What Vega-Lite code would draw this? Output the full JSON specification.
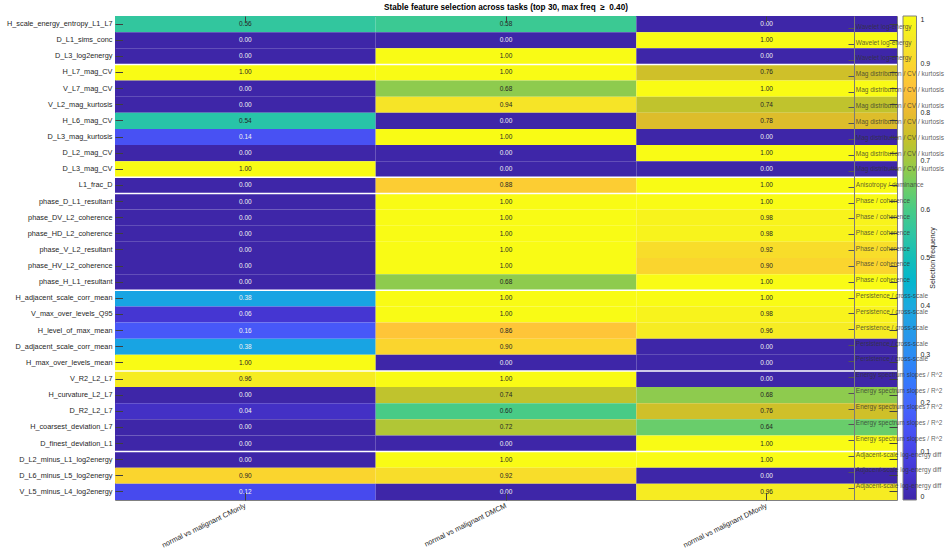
{
  "$schema": "https://vega.github.io/schema/vega-lite/v6.json",
  "width": 782,
  "height": 484,
  "autosize": {"type": "none"},
  "padding": {"left": 115, "top": 16, "right": 51, "bottom": 53},
  "background": "white",
  "config": {
    "view": {"stroke": "#808080", "strokeWidth": 1},
    "font": "Liberation Sans",
    "axis": {"grid": false, "labelFont": "Liberation Sans", "titleFont": "Liberation Sans"}
  },
  "title": {
    "text": "Stable feature selection across tasks (top 30, max freq \u00a0\u2265 \u00a00.40)",
    "fontSize": 8.2,
    "fontWeight": "bold",
    "color": "#000000",
    "offset": 3,
    "anchor": "middle",
    "font": "Liberation Sans"
  },
  "datasets": {
    "cells": [
      {"feature": "H_scale_energy_entropy_L1_L7", "task": "normal vs malignant CMonly", "value": 0.56},
      {"feature": "H_scale_energy_entropy_L1_L7", "task": "normal vs malignant DMCM", "value": 0.58},
      {"feature": "H_scale_energy_entropy_L1_L7", "task": "normal vs malignant DMonly", "value": 0.0},
      {"feature": "D_L1_sims_conc", "task": "normal vs malignant CMonly", "value": 0.0},
      {"feature": "D_L1_sims_conc", "task": "normal vs malignant DMCM", "value": 0.0},
      {"feature": "D_L1_sims_conc", "task": "normal vs malignant DMonly", "value": 1.0},
      {"feature": "D_L3_log2energy", "task": "normal vs malignant CMonly", "value": 0.0},
      {"feature": "D_L3_log2energy", "task": "normal vs malignant DMCM", "value": 1.0},
      {"feature": "D_L3_log2energy", "task": "normal vs malignant DMonly", "value": 0.0},
      {"feature": "H_L7_mag_CV", "task": "normal vs malignant CMonly", "value": 1.0},
      {"feature": "H_L7_mag_CV", "task": "normal vs malignant DMCM", "value": 1.0},
      {"feature": "H_L7_mag_CV", "task": "normal vs malignant DMonly", "value": 0.76},
      {"feature": "V_L7_mag_CV", "task": "normal vs malignant CMonly", "value": 0.0},
      {"feature": "V_L7_mag_CV", "task": "normal vs malignant DMCM", "value": 0.68},
      {"feature": "V_L7_mag_CV", "task": "normal vs malignant DMonly", "value": 1.0},
      {"feature": "V_L2_mag_kurtosis", "task": "normal vs malignant CMonly", "value": 0.0},
      {"feature": "V_L2_mag_kurtosis", "task": "normal vs malignant DMCM", "value": 0.94},
      {"feature": "V_L2_mag_kurtosis", "task": "normal vs malignant DMonly", "value": 0.74},
      {"feature": "H_L6_mag_CV", "task": "normal vs malignant CMonly", "value": 0.54},
      {"feature": "H_L6_mag_CV", "task": "normal vs malignant DMCM", "value": 0.0},
      {"feature": "H_L6_mag_CV", "task": "normal vs malignant DMonly", "value": 0.78},
      {"feature": "D_L3_mag_kurtosis", "task": "normal vs malignant CMonly", "value": 0.14},
      {"feature": "D_L3_mag_kurtosis", "task": "normal vs malignant DMCM", "value": 1.0},
      {"feature": "D_L3_mag_kurtosis", "task": "normal vs malignant DMonly", "value": 0.0},
      {"feature": "D_L2_mag_CV", "task": "normal vs malignant CMonly", "value": 0.0},
      {"feature": "D_L2_mag_CV", "task": "normal vs malignant DMCM", "value": 0.0},
      {"feature": "D_L2_mag_CV", "task": "normal vs malignant DMonly", "value": 1.0},
      {"feature": "D_L3_mag_CV", "task": "normal vs malignant CMonly", "value": 1.0},
      {"feature": "D_L3_mag_CV", "task": "normal vs malignant DMCM", "value": 0.0},
      {"feature": "D_L3_mag_CV", "task": "normal vs malignant DMonly", "value": 0.0},
      {"feature": "L1_frac_D", "task": "normal vs malignant CMonly", "value": 0.0},
      {"feature": "L1_frac_D", "task": "normal vs malignant DMCM", "value": 0.88},
      {"feature": "L1_frac_D", "task": "normal vs malignant DMonly", "value": 1.0},
      {"feature": "phase_D_L1_resultant", "task": "normal vs malignant CMonly", "value": 0.0},
      {"feature": "phase_D_L1_resultant", "task": "normal vs malignant DMCM", "value": 1.0},
      {"feature": "phase_D_L1_resultant", "task": "normal vs malignant DMonly", "value": 1.0},
      {"feature": "phase_DV_L2_coherence", "task": "normal vs malignant CMonly", "value": 0.0},
      {"feature": "phase_DV_L2_coherence", "task": "normal vs malignant DMCM", "value": 1.0},
      {"feature": "phase_DV_L2_coherence", "task": "normal vs malignant DMonly", "value": 0.98},
      {"feature": "phase_HD_L2_coherence", "task": "normal vs malignant CMonly", "value": 0.0},
      {"feature": "phase_HD_L2_coherence", "task": "normal vs malignant DMCM", "value": 1.0},
      {"feature": "phase_HD_L2_coherence", "task": "normal vs malignant DMonly", "value": 0.98},
      {"feature": "phase_V_L2_resultant", "task": "normal vs malignant CMonly", "value": 0.0},
      {"feature": "phase_V_L2_resultant", "task": "normal vs malignant DMCM", "value": 1.0},
      {"feature": "phase_V_L2_resultant", "task": "normal vs malignant DMonly", "value": 0.92},
      {"feature": "phase_HV_L2_coherence", "task": "normal vs malignant CMonly", "value": 0.0},
      {"feature": "phase_HV_L2_coherence", "task": "normal vs malignant DMCM", "value": 1.0},
      {"feature": "phase_HV_L2_coherence", "task": "normal vs malignant DMonly", "value": 0.9},
      {"feature": "phase_H_L1_resultant", "task": "normal vs malignant CMonly", "value": 0.0},
      {"feature": "phase_H_L1_resultant", "task": "normal vs malignant DMCM", "value": 0.68},
      {"feature": "phase_H_L1_resultant", "task": "normal vs malignant DMonly", "value": 1.0},
      {"feature": "H_adjacent_scale_corr_mean", "task": "normal vs malignant CMonly", "value": 0.38},
      {"feature": "H_adjacent_scale_corr_mean", "task": "normal vs malignant DMCM", "value": 1.0},
      {"feature": "H_adjacent_scale_corr_mean", "task": "normal vs malignant DMonly", "value": 1.0},
      {"feature": "V_max_over_levels_Q95", "task": "normal vs malignant CMonly", "value": 0.06},
      {"feature": "V_max_over_levels_Q95", "task": "normal vs malignant DMCM", "value": 1.0},
      {"feature": "V_max_over_levels_Q95", "task": "normal vs malignant DMonly", "value": 0.98},
      {"feature": "H_level_of_max_mean", "task": "normal vs malignant CMonly", "value": 0.16},
      {"feature": "H_level_of_max_mean", "task": "normal vs malignant DMCM", "value": 0.86},
      {"feature": "H_level_of_max_mean", "task": "normal vs malignant DMonly", "value": 0.96},
      {"feature": "D_adjacent_scale_corr_mean", "task": "normal vs malignant CMonly", "value": 0.38},
      {"feature": "D_adjacent_scale_corr_mean", "task": "normal vs malignant DMCM", "value": 0.9},
      {"feature": "D_adjacent_scale_corr_mean", "task": "normal vs malignant DMonly", "value": 0.0},
      {"feature": "H_max_over_levels_mean", "task": "normal vs malignant CMonly", "value": 1.0},
      {"feature": "H_max_over_levels_mean", "task": "normal vs malignant DMCM", "value": 0.0},
      {"feature": "H_max_over_levels_mean", "task": "normal vs malignant DMonly", "value": 0.0},
      {"feature": "V_R2_L2_L7", "task": "normal vs malignant CMonly", "value": 0.96},
      {"feature": "V_R2_L2_L7", "task": "normal vs malignant DMCM", "value": 1.0},
      {"feature": "V_R2_L2_L7", "task": "normal vs malignant DMonly", "value": 0.0},
      {"feature": "H_curvature_L2_L7", "task": "normal vs malignant CMonly", "value": 0.0},
      {"feature": "H_curvature_L2_L7", "task": "normal vs malignant DMCM", "value": 0.74},
      {"feature": "H_curvature_L2_L7", "task": "normal vs malignant DMonly", "value": 0.68},
      {"feature": "D_R2_L2_L7", "task": "normal vs malignant CMonly", "value": 0.04},
      {"feature": "D_R2_L2_L7", "task": "normal vs malignant DMCM", "value": 0.6},
      {"feature": "D_R2_L2_L7", "task": "normal vs malignant DMonly", "value": 0.76},
      {"feature": "H_coarsest_deviation_L7", "task": "normal vs malignant CMonly", "value": 0.0},
      {"feature": "H_coarsest_deviation_L7", "task": "normal vs malignant DMCM", "value": 0.72},
      {"feature": "H_coarsest_deviation_L7", "task": "normal vs malignant DMonly", "value": 0.64},
      {"feature": "D_finest_deviation_L1", "task": "normal vs malignant CMonly", "value": 0.0},
      {"feature": "D_finest_deviation_L1", "task": "normal vs malignant DMCM", "value": 0.0},
      {"feature": "D_finest_deviation_L1", "task": "normal vs malignant DMonly", "value": 1.0},
      {"feature": "D_L2_minus_L1_log2energy", "task": "normal vs malignant CMonly", "value": 0.0},
      {"feature": "D_L2_minus_L1_log2energy", "task": "normal vs malignant DMCM", "value": 1.0},
      {"feature": "D_L2_minus_L1_log2energy", "task": "normal vs malignant DMonly", "value": 1.0},
      {"feature": "D_L6_minus_L5_log2energy", "task": "normal vs malignant CMonly", "value": 0.9},
      {"feature": "D_L6_minus_L5_log2energy", "task": "normal vs malignant DMCM", "value": 0.92},
      {"feature": "D_L6_minus_L5_log2energy", "task": "normal vs malignant DMonly", "value": 0.0},
      {"feature": "V_L5_minus_L4_log2energy", "task": "normal vs malignant CMonly", "value": 0.12},
      {"feature": "V_L5_minus_L4_log2energy", "task": "normal vs malignant DMCM", "value": 0.0},
      {"feature": "V_L5_minus_L4_log2energy", "task": "normal vs malignant DMonly", "value": 0.96}
    ],
    "starts": [
      {"feature": "H_L7_mag_CV"},
      {"feature": "L1_frac_D"},
      {"feature": "phase_D_L1_resultant"},
      {"feature": "H_adjacent_scale_corr_mean"},
      {"feature": "V_R2_L2_L7"},
      {"feature": "D_L2_minus_L1_log2energy"}
    ],
    "groups": [
      {"slot": "Wavelet log-energy|1"},
      {"slot": "Wavelet log-energy|2"},
      {"slot": "Wavelet log-energy|3"},
      {"slot": "Mag distribution / CV / kurtosis|4"},
      {"slot": "Mag distribution / CV / kurtosis|5"},
      {"slot": "Mag distribution / CV / kurtosis|6"},
      {"slot": "Mag distribution / CV / kurtosis|7"},
      {"slot": "Mag distribution / CV / kurtosis|8"},
      {"slot": "Mag distribution / CV / kurtosis|9"},
      {"slot": "Mag distribution / CV / kurtosis|10"},
      {"slot": "Anisotropy / dominance|11"},
      {"slot": "Phase / coherence|12"},
      {"slot": "Phase / coherence|13"},
      {"slot": "Phase / coherence|14"},
      {"slot": "Phase / coherence|15"},
      {"slot": "Phase / coherence|16"},
      {"slot": "Phase / coherence|17"},
      {"slot": "Persistence / cross-scale|18"},
      {"slot": "Persistence / cross-scale|19"},
      {"slot": "Persistence / cross-scale|20"},
      {"slot": "Persistence / cross-scale|21"},
      {"slot": "Persistence / cross-scale|22"},
      {"slot": "Energy spectrum slopes / R^2|23"},
      {"slot": "Energy spectrum slopes / R^2|24"},
      {"slot": "Energy spectrum slopes / R^2|25"},
      {"slot": "Energy spectrum slopes / R^2|26"},
      {"slot": "Energy spectrum slopes / R^2|27"},
      {"slot": "Adjacent-scale log-energy diff|28"},
      {"slot": "Adjacent-scale log-energy diff|29"},
      {"slot": "Adjacent-scale log-energy diff|30"}
    ]
  },
  "layer": [
    {
      "data": {"name": "cells"},
      "layer": [
        {
          "mark": {"type": "rect"},
          "encoding": {
            "x": {
              "field": "task", "type": "nominal", "sort": null,
              "scale": {"paddingInner": 0, "paddingOuter": 0},
              "axis": {
                "orient": "bottom", "title": null, "labelAngle": -26, "labelAlign": "right", "labelBaseline": "middle",
                "labelFontSize": 7.3, "labelColor": "#262626", "tickSize": -7.5, "tickColor": "#404040",
                "labelPadding": 12.5, "domain": false, "zindex": 1
              }
            },
            "y": {
              "field": "feature", "type": "nominal",
              "scale": {
                "paddingInner": 0, "paddingOuter": 0,
                "domain": ["H_scale_energy_entropy_L1_L7", "D_L1_sims_conc", "D_L3_log2energy", "H_L7_mag_CV", "V_L7_mag_CV", "V_L2_mag_kurtosis", "H_L6_mag_CV", "D_L3_mag_kurtosis", "D_L2_mag_CV", "D_L3_mag_CV", "L1_frac_D", "phase_D_L1_resultant", "phase_DV_L2_coherence", "phase_HD_L2_coherence", "phase_V_L2_resultant", "phase_HV_L2_coherence", "phase_H_L1_resultant", "H_adjacent_scale_corr_mean", "V_max_over_levels_Q95", "H_level_of_max_mean", "D_adjacent_scale_corr_mean", "H_max_over_levels_mean", "V_R2_L2_L7", "H_curvature_L2_L7", "D_R2_L2_L7", "H_coarsest_deviation_L7", "D_finest_deviation_L1", "D_L2_minus_L1_log2energy", "D_L6_minus_L5_log2energy", "V_L5_minus_L4_log2energy"]
              },
              "axis": {
                "orient": "left", "title": null, "labelFontSize": 7.3, "labelColor": "#262626",
                "tickSize": -7.5, "tickColor": "#404040", "labelPadding": 10.5, "domain": false, "labelLimit": 300, "zindex": 1
              }
            },
            "color": {
              "field": "value", "type": "quantitative",
              "scale": {
                "domain": [0, 0.05, 0.1, 0.15, 0.2, 0.25, 0.3, 0.35, 0.4, 0.45, 0.5, 0.55, 0.6, 0.65, 0.7, 0.75, 0.8, 0.85, 0.9, 0.95, 1],
                "range": ["#3E26A8", "#4433CD", "#4744E8", "#4854F6", "#4367FD", "#337AFC", "#2D8CF3", "#259BE8", "#1CAADF", "#04B6CE", "#14BEB8", "#2FC5A3", "#48CB86", "#72CD64", "#A1C840", "#C8C129", "#EABA30", "#FEC13A", "#FAD52E", "#F5E825", "#F9FB15"]
              },
              "legend": {
                "orient": "none", "legendX": 788, "legendY": 0, "direction": "vertical", "padding": 0,
                "gradientLength": 484, "gradientThickness": 13.5, "gradientStrokeColor": "#808080", "gradientStrokeWidth": 1,
                "values": [0, 0.1, 0.2, 0.3, 0.4, 0.5, 0.6, 0.7, 0.8, 0.9, 1], "format": "~g",
                "labelFontSize": 7, "labelColor": "#262626", "labelOffset": 4, "labelFont": "Liberation Sans",
                "title": "Selection frequency", "titleOrient": "right", "titleFontSize": 7, "titleFontWeight": "normal",
                "titleColor": "#262626", "titleFont": "Liberation Sans", "titleAnchor": "middle", "titlePadding": 6,
                "encoding": {"title": {"angle": {"value": 270}}}
              }
            }
          }
        },
        {
          "mark": {"type": "text", "fontSize": 6.5, "font": "Liberation Sans"},
          "encoding": {
            "x": {"field": "task", "type": "nominal", "sort": null, "axis": null},
            "y": {"field": "feature", "type": "nominal", "axis": null},
            "text": {"field": "value", "type": "quantitative", "format": ".2f"},
            "color": {"condition": {"test": "datum.value < 0.5", "value": "#f0f0f0"}, "value": "#262626"}
          }
        },
        {
          "data": {"name": "starts"},
          "mark": {"type": "rule", "color": "#ffffff", "strokeWidth": 1.5},
          "encoding": {
            "y": {"field": "feature", "type": "nominal", "bandPosition": 0, "axis": null}
          }
        },
        {
          "mark": {"type": "rect", "opacity": 0},
          "encoding": {
            "x": {
              "field": "task", "type": "nominal", "sort": null,
              "axis": {"orient": "top", "title": null, "labels": false, "domain": false, "tickSize": -6, "tickColor": "#404040", "zindex": 1}
            },
            "y": {
              "field": "feature", "type": "nominal",
              "axis": {"orient": "right", "title": null, "labels": false, "domain": false, "tickSize": -8, "tickColor": "#404040", "zindex": 1}
            }
          }
        }
      ],
      "resolve": {"axis": {"x": "independent", "y": "independent"}}
    },
    {
      "data": {"name": "groups"},
      "mark": {"type": "rule", "opacity": 0},
      "encoding": {
        "y": {
          "field": "slot", "type": "nominal", "sort": null,
          "scale": {"type": "point", "padding": 0.774},
          "axis": {
            "orient": "right", "offset": -43, "title": null,
            "labelExpr": "split(datum.label, '|')[0]",
            "labelFontSize": 6.5, "labelColor": "#333333", "labelOpacity": 0.8, "labelAlign": "left",
            "labelLimit": 300, "labelOffset": -2,
            "tickSize": -6, "tickColor": "#555555", "labelPadding": 7.3,
            "domain": true, "domainColor": "#7a7a7a", "domainWidth": 1, "zindex": 2
          }
        }
      }
    }
  ],
  "resolve": {"scale": {"y": "independent"}, "axis": {"y": "independent"}}
}
